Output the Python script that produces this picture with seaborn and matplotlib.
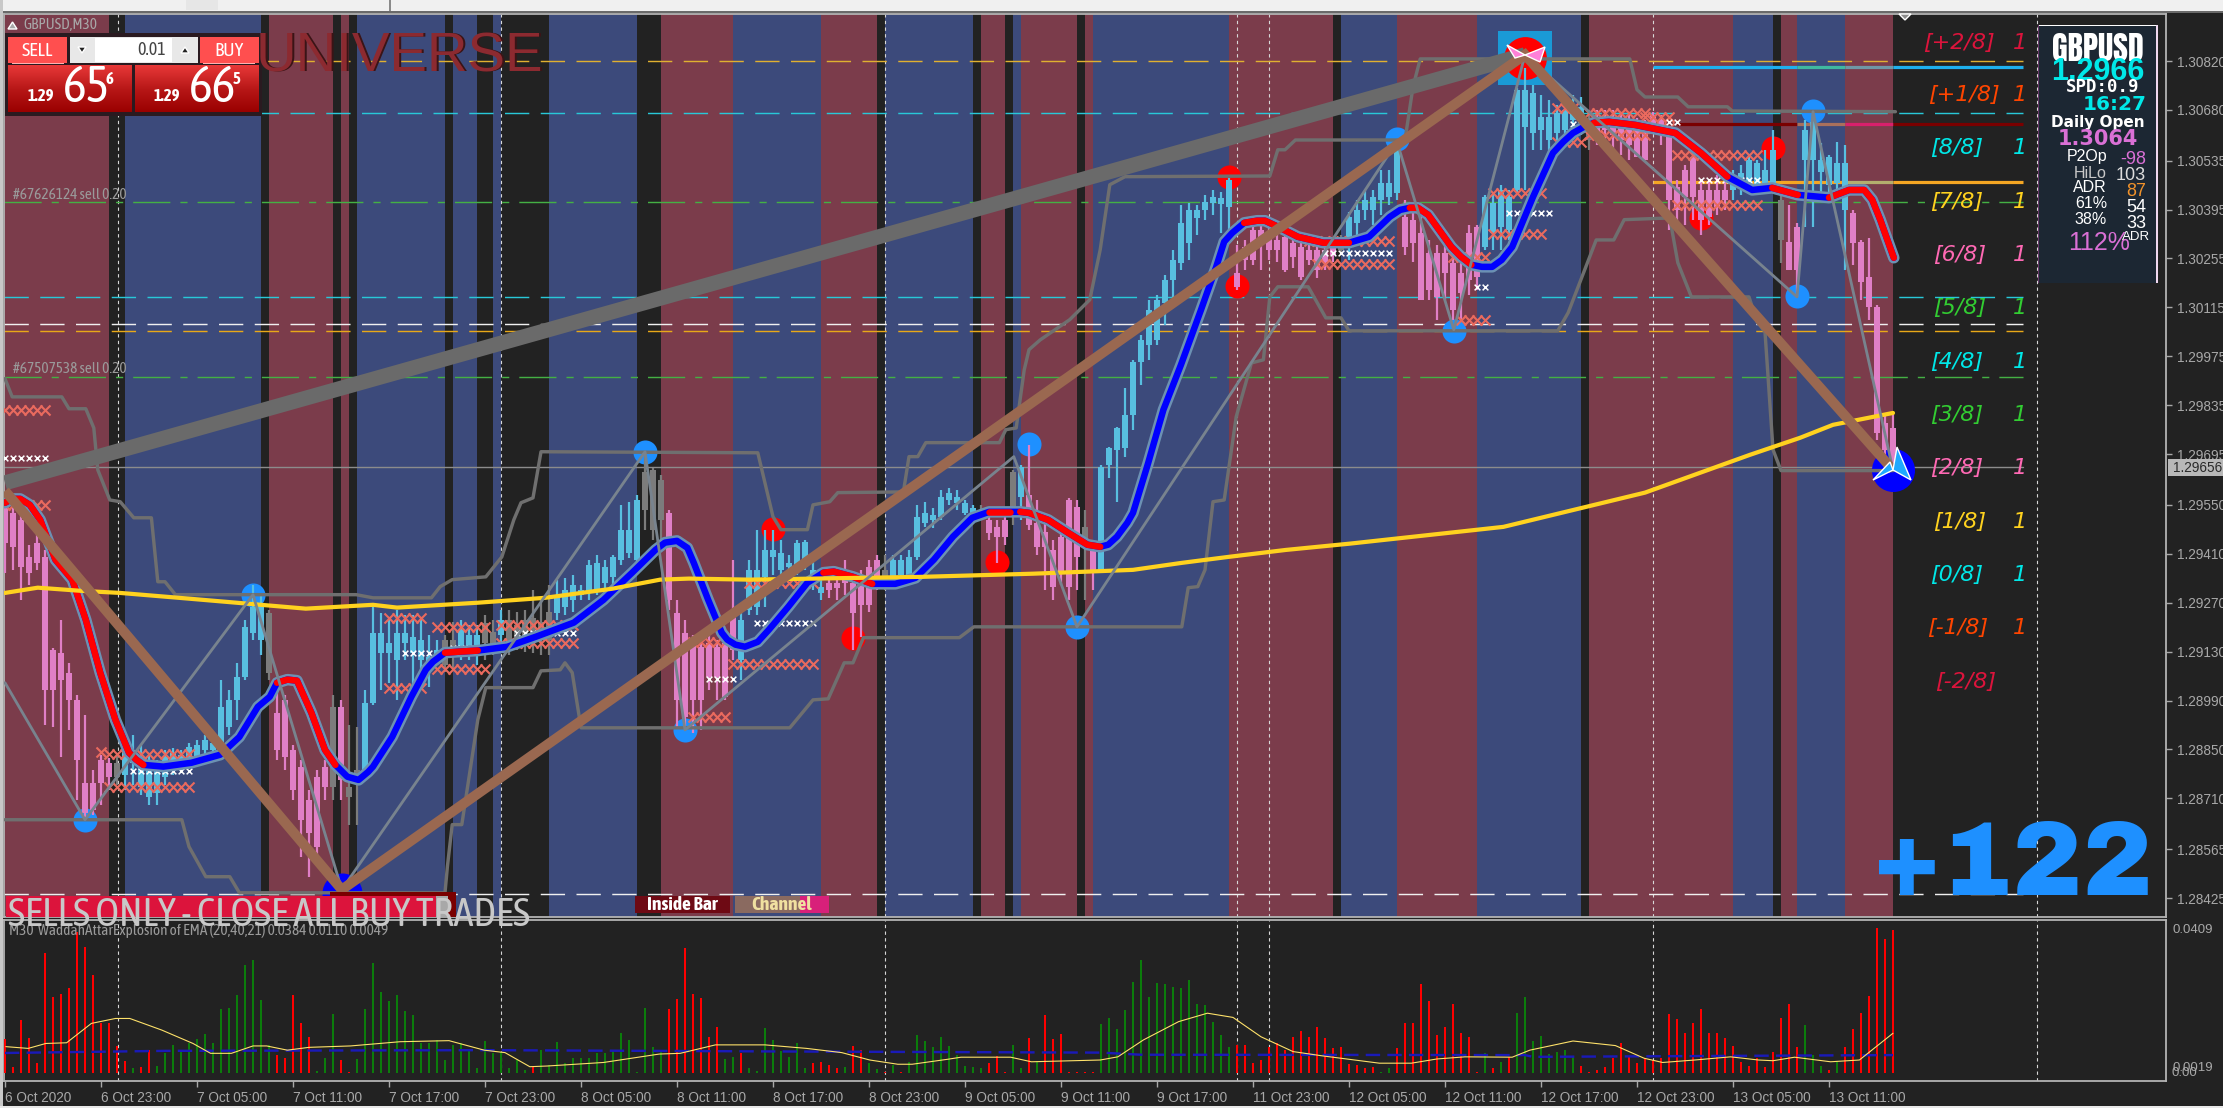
import numpy as np
import matplotlib
matplotlib.use("Agg")
import matplotlib.pyplot as plt
import matplotlib.font_manager as fm
from matplotlib.patches import Rectangle, Polygon
import seaborn as sns

# ---------- data (prices in points: price = 1 + value / 100000) ----------
body_top = [
29544,29527,29507,29401,29441,29401,29135,29127,29070,28992,
28755,28755,28821,28812,28812,28864,28849,28829,28792,28792,
28829,28841,28835,28858,28864,28878,28869,28972,28992,29058,
29201,29258,29270,29241,28955,28992,28849,28801,28706,28772,
28801,28972,28972,28743,28792,28984,29184,29184,29155,29184,
29184,29173,29164,29115,29135,29164,29164,29193,29178,29178,
29213,29187,29221,29221,29207,29221,29227,29215,29244,29287,
29307,29321,29307,29378,29384,29373,29401,29479,29479,29564,
29645,29650,29622,29527,29241,29184,29164,29144,29155,29144,
29155,29250,29221,29364,29364,29421,29421,29413,29384,29441,
29444,29364,29316,29327,29327,29364,29327,29344,29373,29393,
29364,29393,29393,29401,29516,29527,29522,29573,29585,29573,
29556,29542,29536,29507,29487,29507,29645,29659,29579,29499,
29473,29421,29459,29564,29544,29487,29421,29659,29713,29770,
29808,29959,30022,30108,30137,30194,30251,30357,30394,30394,
30417,30431,30429,30480,30214,30288,30337,30337,30317,30308,
30317,30300,30288,30280,30280,30280,30294,30308,30374,30394,
30423,30431,30471,30471,30572,30374,30366,30328,30271,30271,
30271,30243,30214,30328,30346,30431,30414,30451,30431,30738,
30738,30729,30660,30660,30672,30680,30689,30689,30637,30652,
30652,30657,30637,30637,30637,30623,30666,30652,30623,30460,
30509,30546,30451,30451,30451,30451,30494,30500,30537,30529,
30509,30566,30423,30303,30346,30623,30646,30537,30546,30529,
30529,30386,30303,30203,30117,29785,29770]
body_bot = [
29441,29430,29373,29356,29384,29021,29021,29050,28992,28821,
28669,28678,28755,28772,28772,28778,28812,28743,28715,28726,
28772,28801,28806,28821,28821,28849,28849,28869,28915,28992,
29058,29184,29164,29070,28849,28829,28735,28649,28612,28572,
28743,28743,28764,28715,28764,28783,28984,29127,29127,29107,
29155,29127,29107,29098,29115,29092,29121,29135,29144,29135,
29155,29150,29178,29164,29164,29178,29164,29164,29164,29241,
29258,29278,29293,29298,29307,29327,29344,29393,29413,29393,
29536,29479,29507,29278,28992,28944,28992,28992,29058,29058,
29001,29135,29107,29250,29258,29344,29401,29364,29373,29373,
29384,29327,29298,29307,29313,29327,29241,29264,29264,29336,
29336,29344,29350,29344,29401,29499,29507,29516,29564,29556,
29527,29527,29527,29470,29459,29459,29544,29573,29493,29430,
29430,29316,29356,29316,29401,29430,29364,29364,29665,29708,
29713,29808,29959,30008,30022,30128,30194,30243,30300,30371,
30394,30414,30411,30403,30174,30251,30251,30300,30280,30280,
30223,30260,30203,30251,30223,30245,30265,30280,30317,30357,
30394,30394,30423,30431,30443,30288,30300,30137,30165,30145,
30214,30108,30157,30194,30203,30288,30328,30346,30337,30451,
30632,30614,30623,30594,30614,30623,30652,30643,30594,30609,
30623,30609,30594,30580,30546,30537,30637,30609,30423,30394,
30431,30431,30366,30374,30403,30423,30451,30460,30460,30460,
30471,30471,30308,30223,30223,30537,30537,30503,30466,30471,
30394,30300,30188,30117,29756,29708,29679]
wick_hi = [
29556,29564,29530,29436,29507,29421,29141,29221,29098,29007,
28949,28792,28835,28826,28835,28892,28892,28864,28835,28821,
28849,28855,28849,28869,28878,28892,28884,29050,29021,29098,
29221,29321,29293,29250,29021,29007,28864,28821,28735,28792,
28821,29007,28992,28921,28915,29021,29264,29241,29221,29250,
29236,29236,29221,29178,29164,29178,29215,29221,29207,29207,
29236,29221,29250,29250,29244,29250,29307,29278,29321,29336,
29341,29350,29321,29393,29407,29393,29407,29550,29559,29579,
29702,29656,29636,29536,29278,29221,29178,29164,29178,29164,
29193,29393,29250,29393,29479,29479,29479,29450,29407,29450,
29450,29393,29336,29350,29350,29393,29336,29364,29393,29407,
29407,29407,29407,29421,29550,29559,29542,29593,29599,29593,
29564,29550,29550,29522,29507,29522,29650,29665,29722,29564,
29507,29450,29479,29570,29564,29536,29436,29665,29716,29773,
29885,29965,30037,30137,30151,30208,30280,30409,30414,30409,
30437,30451,30446,30486,30294,30308,30351,30351,30343,30323,
30323,30323,30308,30294,30294,30294,30308,30323,30388,30423,
30451,30451,30509,30509,30574,30423,30394,30380,30308,30294,
30294,30265,30251,30351,30351,30437,30437,30466,30451,30743,
30800,30752,30723,30709,30695,30709,30723,30717,30680,30680,
30680,30680,30666,30666,30657,30652,30675,30666,30629,30480,
30523,30566,30480,30480,30494,30494,30509,30523,30552,30537,
30566,30623,30437,30409,30357,30652,30652,30586,30552,30589,
30580,30394,30308,30314,30122,29808,29813]
wick_lo = [
29356,29364,29278,29321,29364,28921,28915,28829,28906,28706,
28649,28663,28692,28735,28749,28735,28749,28721,28692,28692,
28749,28778,28786,28798,28806,28821,28835,28864,28892,28935,
29050,29164,29121,29050,28821,28792,28706,28543,28486,28535,
28706,28706,28706,28635,28635,28764,28978,29021,29041,28992,
29107,29021,29050,29030,29092,29072,29084,29107,29107,29092,
29107,29121,29135,29121,29135,29130,29127,29121,29121,29221,
29236,29244,29278,29278,29293,29301,29307,29378,29399,29384,
29479,29450,29421,29250,28915,28906,28898,28906,29021,28992,
28992,29107,29050,29236,29236,29258,29350,29321,29336,29350,
29364,29307,29278,29284,29278,29293,29135,29173,29244,29307,
29307,29336,29336,29330,29393,29487,29484,29507,29550,29536,
29522,29519,29507,29450,29384,29436,29493,29507,29479,29407,
29307,29278,29321,29278,29307,29278,29307,29359,29627,29559,
29688,29765,29893,29965,30008,30065,30137,30223,30251,30323,
30366,30380,30328,30328,30165,30223,30237,30223,30251,30245,
30217,30228,30194,30237,30200,30223,30245,30265,30251,30323,
30366,30351,30380,30409,30423,30265,30245,30137,30137,30080,
30137,30080,30074,30151,30165,30280,30280,30280,30308,30437,
30451,30566,30566,30566,30566,30594,30609,30609,30566,30580,
30580,30566,30552,30537,30546,30537,30623,30580,30337,30337,
30351,30366,30323,30351,30380,30394,30423,30437,30451,30437,
30451,30451,30243,30223,30145,30346,30346,30423,30437,30437,
30223,30237,30137,30080,29736,29650,29659]
candle_trend = ("d"*14+"g"+"u"*18+"g"+"d"*7+"g"+"d"+"gg"+"u"*10+"gg"+"uuu"+"gg"+"u"+"g"*6+"u"*11+"ggg"
                +"d"*9+"u"*11+"d"*7+"g"+"u"*11+"g"+"ddd"+"g"+"u"+"d"*7+"g"+"d"+"u"*17+"d"*13+"g"
                +"u"*7+"d"*10+"u"*13+"g"+"d"*17+"u"*6+"g"+"dd"+"u"*6+"d"*6)

band_edges = [0,13,15,32,33,41,42,43,44,55,56,59,61,62,68,79,82,91,102,109,110,121,122,125,126,127,
              134,135,136,153,166,167,174,184,197,198,216,221,222,224,230,236]
band_kinds = "mdbdmdmdbdbdbdbdmbmdbdmdbmdmbmdbmbdmbdmbm"

hma_x = [0,0.9,1.9,3.1,4.4,6.3,8.4,10.1,11.9,13.8,15.5,16.4,17.3,19.8,23.3,26.9,29.3,31.6,33.1,34,35.3,36.5,37.4,38.3,40,41.3,42.8,44.2,45.4,46,48.4,50.8,52.6,53.5,55,56.8,59.1,62.8,66.4,71.1,74.8,78.4,81.3,82.5,84,85.3,86.1,87.9,89.6,90.3,91.3,92.5,94.1,95.5,97.9,100.3,102.3,103.6,106,108.4,111.3,113.8,116.1,118.5,120.9,123,125.6,126.9,128,130.4,132.9,135.3,136.9,137.9,139,140.3,141,142.9,144.8,147,149.5,151.4,152.4,153.4,154.9,156.5,157.5,159.1,161.6,164.8,168,170.5,173.1,174.4,175.6,176.6,177.9,180.8,182,183.3,184.6,185.9,187.1,188.4,191,193.5,194.8,196,197.4,198.6,200.5,203.8,208.8,212,215.3,218.4,220.9,224.1,228,230.5,232.4,233.4,234.4,235.3,236.1]
hma_y = [29556,29567,29567,29550,29507,29393,29336,29221,29070,28935,28841,28821,28806,28801,28812,28835,28886,28972,29001,29041,29050,29047,29001,28955,28849,28806,28772,28763,28786,28801,28886,29001,29078,29101,29127,29130,29133,29144,29173,29213,29278,29356,29421,29442,29447,29427,29384,29278,29184,29164,29150,29144,29158,29193,29258,29327,29356,29359,29344,29324,29324,29341,29393,29459,29513,29530,29530,29530,29527,29507,29470,29436,29430,29436,29459,29499,29527,29670,29822,29951,30108,30231,30303,30328,30357,30363,30363,30346,30317,30300,30300,30317,30374,30394,30400,30400,30380,30288,30260,30237,30231,30231,30251,30288,30431,30557,30589,30614,30632,30643,30646,30637,30614,30557,30489,30451,30457,30437,30429,30451,30451,30423,30366,30308,30257]
hma_red_from = [0,34,55,102.3,123,126.9,154,175.6,198.6,220.9,228]
hma_red_to = [17.3,41.9,59.1,108.4,125.6,136.9,168,183.3,215.3,224.1,236.1]

ma_x = [0,4.1,9.5,14.4,23.3,37.6,46,49,59.1,67.5,75.9,81.9,85.5,93.1,114.6,128.5,141,147.1,152.9,160.1,168.1,187.3,205,218.1,224.4,228.5,236]
ma_y = [29298,29313,29304,29298,29281,29253,29264,29256,29270,29284,29310,29336,29339,29336,29344,29353,29364,29384,29401,29421,29439,29487,29585,29693,29742,29779,29813]

upper_x = [0,0.9,7.1,8,10.1,11.1,11.6,13.1,14.4,16.1,18.3,19.1,20,21.3,43.9,46,53.3,54.4,55.9,60.1,62.1,63.6,64.5,66,67,94.1,96,97,100.3,101,103.1,104.1,112.3,113,114.1,115.1,124.3,125.1,126.4,127.4,128,129.4,133.1,135.6,136.9,138.1,140,158.1,159.1,160,161.3,175,176,176.9,203.1,204,205,209.1,210.4,215.3,215.9,236.3]
upper_y = [29911,29859,29859,29825,29825,29770,29650,29564,29559,29513,29513,29330,29330,29293,29293,29284,29284,29316,29336,29344,29401,29507,29556,29570,29702,29699,29516,29479,29479,29550,29559,29585,29587,29688,29688,29728,29728,29765,29770,29936,29994,30022,30080,30137,30280,30466,30489,30491,30566,30566,30594,30594,30746,30826,30826,30738,30717,30717,30689,30689,30677,30675]
lower_x = [0,22.1,23,25.1,28.1,29.3,55,55.3,55.9,57.1,59.1,60.1,66,67,69.4,70,70.9,72,98.1,101,102.9,104.9,106,107.3,119.3,121.1,147.1,147.9,149.1,150,151,152.4,153.9,155.1,155.8,157.3,158.1,159.1,162.9,165.1,167,168,194.1,195.4,198.9,201.1,202.4,208.1,209.1,210.8,218,219,220,221,222,236]
lower_y = [28649,28649,28572,28486,28486,28440,28440,28515,28635,28635,28935,29027,29027,29075,29078,29098,29070,28912,28912,28992,28995,29098,29098,29170,29170,29201,29201,29313,29316,29364,29559,29564,29802,29899,29956,29965,30145,30174,30174,30085,30085,30048,30048,30100,30308,30308,30366,30371,30243,30145,30145,30074,30045,29708,29648,29648]

zig_x = [0,10,31,42.1,80,85,126.1,134,174,181.1,190,224,226,236]
zig_y = [29041,28649,29293,28449,29702,28906,29688,29201,30589,30051,30838,30145,30675,29650]
brown_x = [0,42.1,190,236]
brown_y = [29590,28449,30838,29650]
grey_x = [0,190]
grey_y = [29613,30838]

swing_blue_x = [10,31,80,85,128,134,174,181.1,224,226]
swing_blue_y = [28649,29293,29702,28906,29725,29201,30597,30048,30148,30678]
swing_red_x = [96,106,124,154,153,212,221]
swing_red_y = [29481,29170,29386,30176,30489,30371,30572]

salmon_runs = [(0,5,29822),(0,5,29550),(12,12,28844),(13,23,28838),(13,23,28743),(48,52,29227),(54,60,29201),(48,52,29027),
 (54,60,29081),(62,71,29207),(62,71,29155),(86,90,29158),(91,93,29095),(86,90,28944),(93,101,29095),(93,101,29327),
 (163,173,30306),(164,173,30240),(181,185,30260),(182,185,30080),(186,192,30443),(186,192,30326),(194,196,30686),
 (194,197,30589),(198,203,30672),(198,205,30609),(204,205,30672),(205,208,30660),(205,208,30629),(209,219,30552),(209,219,30409)]
white_runs = [(0,5,29685),(16,23,28789),(50,53,29127),(56,61,29141),(64,71,29184),(88,91,29052),(94,101,29213),
 (165,173,30271),(184,185,30174),(188,193,30386),(196,196,30640),(200,203,30643),(208,209,30646),(212,219,30480)]

y_tick_labels = ["1.30820","1.30680","1.30535","1.30395","1.30255","1.30115","1.29975","1.29835","1.29695","1.29550",
                 "1.29410","1.29270","1.29130","1.28990","1.28850","1.28710","1.28565","1.28425"]
time_labels = ["6 Oct 2020","6 Oct 23:00","7 Oct 05:00","7 Oct 11:00","7 Oct 17:00","7 Oct 23:00","8 Oct 05:00","8 Oct 11:00",
               "8 Oct 17:00","8 Oct 23:00","9 Oct 05:00","9 Oct 11:00","9 Oct 17:00","11 Oct 23:00","12 Oct 05:00",
               "12 Oct 11:00","12 Oct 17:00","12 Oct 23:00","13 Oct 05:00","13 Oct 11:00"]
session_lines = [14.1,62,110,154,158,206,254]

wae_values = [95,17,150,98,27,341,216,223,240,401,358,277,142,142,76,33,12,17,64,19,55,79,64,83,97,110,83,181,183,221,306,320,206,79,
 50,41,221,140,102,4,41,167,36,2,38,181,311,228,205,221,175,164,83,83,93,36,79,83,64,13,91,55,60,12,36,8,17,64,22,87,27,43,41,43,55,57,64,112,93,1,
 183,72,64,181,209,353,223,212,102,131,38,45,55,12,6,126,93,62,45,83,12,28,31,22,12,17,76,64,27,10,1,22,3,29,107,90,74,102,77,50,19,15,12,27,48,1,79,12,98,31,164,96,110,2,2,1,2,
 138,154,124,178,259,320,216,256,251,244,241,263,195,192,143,107,74,79,79,28,36,74,83,64,102,119,102,131,98,71,74,24,22,12,17,3,12,71,142,142,252,204,107,131,195,112,102,2,55,12,31,45,169,216,90,105,53,60,64,45,19,3,9,17,41,83,45,27,41,36,41,167,152,112,140,181,112,114,98,76,31,19,41,17,60,154,195,72,135,50,19,8,31,74,124,169,218,410,379,405]
wae_trend = ("r"*16+"g"+"rr"+"g"*15+"r"*5+"ggg"+"rr"+"g"*22+"r"+"g"*16+"r"*7+"gg"+"r"+"g"*8+"r"*4+"g"+"rr"+"gg"+"r"+"g"+"r"
             +"g"*10+"rrr"+"gg"+"r"+"g"+"r"*7+"g"*17+"r"*18+"gg"+"r"*11+"g"+"r"+"g"+"r"+"g"*8+"r"*28+"ggg"+"r"+"g"+"r"*7)
signal_x = [0.1,2.9,5.1,7.7,10.8,13.8,15.6,19.6,23.5,25.7,28.3,31,32.7,35.3,38,43.2,49.4,55.5,59.9,62.5,65.6,67.8,74.8,78.3,81.8,84.4,88.8,95,100.2,104.6,108.1,111.6,113.4,117.8,119.5,125.7,128.3,136.9,139.1,142.3,146.7,150.3,153.5,157,161,164.6,171.8,175.8,179,182.5,188.4,190.6,196,201.3,204.9,207.2,211.2,215.7,219.2,221,223.7,228.2,231.8,236]
signal_y = [74,69,83,85,140,154,154,121,83,55,55,76,76,64,72,76,88,91,64,57,17,19,29,41,53,55,79,79,69,57,36,24,24,38,44,44,31,36,45,93,145,169,157,102,60,48,27,27,39,45,44,64,90,77,41,29,36,45,36,34,44,31,36,112]
dead_x = [0,20,60,100,137,142,190,191,236]
dead_y = [56,62,64,60,57,51,50,45,50]

murrey_labels = ["[+2/8]","[+1/8]","[8/8]","[7/8]","[6/8]","[5/8]","[4/8]","[3/8]","[2/8]","[1/8]","[0/8]","[-1/8]","[-2/8]"]
murrey_colors = ["#dc143c","#ff4500","#00e8e8","#ffd21f","#ff69b4","#32cd32","#00e8e8","#32cd32","#ff69b4","#ffd21f","#00e8e8","#ff4500","#dc143c"]

# ---------- styling ----------
BG = "#222222"
MAROON, NAVY = "#7b3c4b", "#3c4a7b"
sns.set_theme(style="dark", rc={"figure.facecolor": BG, "axes.facecolor": BG, "savefig.facecolor": BG})
names = {f.name for f in fm.fontManager.ttflist}
NARROW, NS = "Liberation Sans", 0.8
for cand in ("Liberation Sans Narrow", "Asap Condensed", "Barlow Condensed"):
    if cand in names:
        NARROW, NS = cand, 1.0
        break
HEAVY = "Archivo Black" if "Archivo Black" in names else None
TALL = "Anton" if "Anton" in names else None
plt.rcParams["font.family"] = ["Liberation Sans", "DejaVu Sans"]
W, H = 2223, 1108
fig = plt.figure(figsize=(W / 100, H / 100), dpi=100)

def axes_px(l, t, r, b, **kw):
    return fig.add_axes([l / W, 1 - b / H, (r - l) / W, (b - t) / H], **kw)

ax = axes_px(4, 14, 2166, 917)
ax2 = axes_px(4, 920, 2166, 1081)
XL = (-0.125, 270.125)
PX = 0.72

def P(v):
    return 1 + np.asarray(v, dtype=float) / 1e5

def line(a, x, y, color, lw, z, **kw):
    sns.lineplot(x=np.asarray(x, float), y=np.asarray(y, float), color=color, linewidth=lw * PX, sort=False,
                 estimator=None, errorbar=None, legend=False, ax=a, zorder=z, **kw)

# bands
colors_band = {"m": MAROON, "b": NAVY, "d": BG}
for s, e, k in zip(band_edges[:-1], band_edges[1:], band_kinds):
    ax.axvspan(s if s else XL[0], e, color=colors_band[k], lw=0, zorder=1)

# session separators
for a in (ax, ax2):
    for t in session_lines:
        a.axvline(t, color="#d8d8d8", lw=0.8, ls=(0, (3, 3)), zorder=2)

# horizontal levels
LEND = 252.25
levels = [(30821, "#e0b030", (0, (17, 8))), (30672, "#28c8d8", (0, (17, 8))), (30416, "#44b044", (0, (26, 7, 5, 7))),
          (30144, "#28c8d8", (0, (17, 8))), (30067, "#f0f0f0", (0, (17, 8))), (30047, "#e8a818", (0, (17, 8))),
          (29917, "#44b044", (0, (26, 7, 5, 7))), (28436, "#f0f0f0", (0, (17, 8)))]
for v, c, ls in levels:
    ax.plot([XL[0], LEND], [P(v), P(v)], color=c, lw=1.1 * PX * 1.3, ls=ls, zorder=2.2)
ax.plot([XL[0], LEND], [P(29657), P(29657)], color="#8c8c8c", lw=1.4 * PX, zorder=2.2)
for v, segs in [(30802, [(206, 224, "#1eb0ee"), (224, 230, "#3fb8a0"), (230, 236, "#6f97a6"), (236, LEND, "#1eb0ee")]),
                (30639, [(209, 224, "#7a0000"), (224, 230, "#a8705c"), (230, 236, "#d8206c"), (236, LEND, "#7a0000")]),
                (30475, [(206, 230, "#f5a623"), (230, 236, "#b4ae6e"), (236, LEND, "#f5a623")])]:
    for s, e, c in segs:
        ax.plot([s, e], [P(v), P(v)], color=c, lw=3.2 * PX, solid_capstyle="butt", zorder=2.3)

# swing circles and square under the candles
sns.scatterplot(x=[190], y=P([30829]), marker="s", s=1560, color="#1a9ad6", linewidth=0, legend=False, ax=ax, zorder=2.6)
sns.scatterplot(x=swing_blue_x, y=P(swing_blue_y), s=300, color="#1e90ff", linewidth=0, legend=False, ax=ax, zorder=2.7)
sns.scatterplot(x=swing_red_x, y=P(swing_red_y), s=300, color="#ff0000", linewidth=0, legend=False, ax=ax, zorder=2.7)
sns.scatterplot(x=[190], y=P([30829]), s=950, color="#ff0000", linewidth=0, legend=False, ax=ax, zorder=2.8)
sns.scatterplot(x=[236], y=P([29650]), s=960, color="#0000ff", linewidth=0, legend=False, ax=ax, zorder=2.8)
sns.scatterplot(x=[42.1], y=P([28440]), s=830, color="#0000ff", linewidth=0, legend=False, ax=ax, zorder=2.8)

# candles
cc = {"u": "#58bfe0", "d": "#e07fc6", "g": "#7c7c7c"}
idx = np.arange(len(body_top))
trend = np.array(list(candle_trend))
for key, col in cc.items():
    m = trend == key
    ax.vlines(idx[m], P(np.array(wick_lo)[m]), P(np.array(wick_hi)[m]), color=col, lw=2.2 * PX, zorder=3)
    ax.bar(idx[m], P(np.array(body_top)[m]) - P(np.array(body_bot)[m]), bottom=P(np.array(body_bot)[m]),
           width=0.72, color=col, lw=0, zorder=3)

# x rows
def runs(rs):
    xs, ys = [], []
    for s, e, v in rs:
        for i in range(s, e + 1):
            xs.append(i); ys.append(v)
    return np.array(xs), P(ys)
xs, ys = runs(salmon_runs)
sns.scatterplot(x=xs, y=ys, marker="x", s=52, color="#ea6a5e", linewidth=1.5, legend=False, ax=ax, zorder=4)
xs, ys = runs(white_runs)
sns.scatterplot(x=xs, y=ys, marker="x", s=17, color="#ffffff", linewidth=1.1, legend=False, ax=ax, zorder=4.1)

# channels
line(ax, upper_x, P(upper_y), "#6f6f6f", 3.4, 4.3)
line(ax, lower_x, P(lower_y), "#6f6f6f", 3.4, 4.3)

# smoothed trend line
hx, hy = np.array(hma_x), P(hma_y)
line(ax, hx, hy, "#6c91b3", 11.5, 5, solid_capstyle="round", solid_joinstyle="round")
line(ax, hx, hy, "#0000ff", 6.5, 5.1, solid_joinstyle="round")
for s, e in zip(hma_red_from, hma_red_to):
    m = (hx >= s) & (hx <= e)
    line(ax, hx[m], hy[m], "#ff0000", 6.5, 5.2, solid_capstyle="round", solid_joinstyle="round")

# moving average
line(ax, ma_x, P(ma_y), "#ffd21f", 4.2, 5.5)
# thick lines
line(ax, grey_x, P(grey_y), "#6a6a6a", 15, 5.6, solid_capstyle="butt")
line(ax, zig_x, P(zig_y), "#78838e", 2.8, 5.8)
line(ax, brown_x, P(brown_y), "#9a6850", 10, 5.9, solid_capstyle="butt", solid_joinstyle="miter")

ax.set_xlim(*XL)
ax.set_ylim(P(28370.7), P(30954.5))
ax.set_xlabel(""); ax.set_ylabel("")
ax.set_xticks([])
ax.yaxis.tick_right()
ax.set_yticks([float(t) for t in y_tick_labels])
ax.set_yticklabels(y_tick_labels)
ax.tick_params(axis="y", colors="#a8a8a8", labelsize=9.8, length=4, width=1, pad=4, right=True)

# lower panel
wx = np.arange(len(wae_values))
sns.barplot(x=wx, y=np.array(wae_values) / 1e4, hue=list(wae_trend), palette={"r": "#ff0000", "g": "#0b7d0b"},
            native_scale=True, width=0.34, dodge=False, legend=False, saturation=1, linewidth=0, ax=ax2, zorder=3)
line(ax2, dead_x, np.array(dead_y) / 1e4, "#1a1ab8", 2.4, 3.5, linestyle=(0, (6, 3)))
line(ax2, signal_x, np.array(signal_y) / 1e4, "#ffe26a", 1.1, 4)
ax2.set_xlim(*XL)
ax2.set_ylim(-0.00236, 0.04337)
ax2.set_xlabel(""); ax2.set_ylabel("")
ax2.yaxis.tick_right()
ax2.set_yticks([0.0409, 0.0019])
ax2.set_yticklabels(["0.0409", "0.0019"])
ax2.tick_params(axis="y", colors="#a8a8a8", labelsize=9.5, length=0, pad=5, right=True)
ax2.set_xticks(np.arange(len(time_labels)) * 12)
ax2.set_xticklabels(time_labels, ha="left")
ax2.tick_params(axis="x", colors="#a8a8a8", labelsize=9.8, length=4, width=1, pad=3, bottom=True)
for a in (ax, ax2):
    for sp in a.spines.values():
        sp.set_color("#b4b4b4"); sp.set_linewidth(1.3); sp.set_visible(True)
    a.grid(False)

# ---------- overlay in figure pixels ----------
ov = fig.add_axes([0, 0, 1, 1], zorder=20)
ov.set_xlim(0, W); ov.set_ylim(H, 0); ov.axis("off"); ov.patch.set_alpha(0)

def rect(x0, y0, x1, y1, c, z=1, **kw):
    ov.add_patch(Rectangle((x0, y0), x1 - x0, y1 - y0, facecolor=c, edgecolor="none", zorder=z, **kw))

def T(x, y, s, c, size, ha="left", va="center", fam=None, w="normal", st="normal", z=5, **kw):
    if fam == NARROW:
        size = size * NS
    return ov.text(x, y, s, color=c, fontsize=size, ha=ha, va=va, family=fam or "Liberation Sans", weight=w, style=st, zorder=z, **kw)

# window chrome
rect(0, 0, W, 10.5, "#f0f0f0"); rect(0, 10.5, W, 13, "#6a6a6a")
rect(0, 0, 2.5, H, "#c8c8c8")
rect(186, 0, 218, 10, "#e6e6e6"); rect(389, 0, 390.5, 10.5, "#8a8a8a")
rect(0, 1105.5, W, H, "#e8e8e8")

# UNIVERSE title
T(545, 58, "UNIVERSE", "#3a1416", 40.5, ha="right")
T(543, 57, "UNIVERSE", "#8c2a30", 40.5, ha="right")

# trade panel
rect(5, 33, 262, 116, "#2a1a20", z=2)
rect(8, 37, 67, 63, "#ff4f4f", z=3); rect(12, 62.5, 64, 63.5, "#ffb0b0", z=3)
rect(200, 37, 259, 63, "#ff4f4f", z=3); rect(203, 62.5, 255, 63.5, "#ffb0b0", z=3)
rect(70, 37, 198, 63, "#e8e8e8", z=3); rect(95, 38, 172, 62, "#ffffff", z=4)
grad = np.linspace(0, 1, 64)[:, None]
cm = matplotlib.colors.LinearSegmentedColormap.from_list("r", ["#e83838", "#b81818", "#9a0000"])
for x0, x1 in [(8, 132), (135, 259)]:
    ov.imshow(grad, extent=(x0, x1, 112, 65), aspect="auto", cmap=cm, zorder=3)
ov.set_xlim(0, W); ov.set_ylim(H, 0)
ov.add_patch(Polygon([(78, 47), (86, 47), (82, 53)], fc="#222222", zorder=5))
ov.add_patch(Polygon([(181, 53), (189, 53), (185, 47)], fc="#222222", zorder=5))
T(37.5, 51, "SELL", "#ffffff", 14, ha="center", fam=NARROW)
T(229, 51, "BUY", "#ffffff", 14, ha="center", fam=NARROW)
T(166, 50, "0.01", "#444444", 13, ha="right", fam=NARROW)
T(28, 96, "1.29", "#ffffff", 12, w="bold", fam=NARROW); T(63, 89, "65", "#ffffff", 36, fam=NARROW); T(106, 79, "6", "#ffffff", 12, w="bold", fam=NARROW)
T(154, 96, "1.29", "#ffffff", 12, w="bold", fam=NARROW); T(189, 89, "66", "#ffffff", 36, fam=NARROW); T(233, 79, "5", "#ffffff", 12, w="bold", fam=NARROW)

# small labels
ov.add_patch(Polygon([(8, 29), (17, 29), (12.5, 22)], fc="#a8a8a8", zorder=5))
T(23, 25, "GBPUSD,M30", "#a8a8a8", 11, fam=NARROW)
T(13, 195, "#67626124 sell 0.20", "#9a9a9a", 11, fam=NARROW)
T(13, 369, "#67507538 sell 0.20", "#9a9a9a", 11, fam=NARROW)
T(9, 931, "M30  WaddahAttarExplosion of EMA (20,40,21) 0.0384 0.0110 0.0049", "#9a9a9a", 11, fam=NARROW)
ov.add_patch(Polygon([(1899, 14), (1911, 14), (1905, 20)], fc="#8c8c8c", zorder=5))

# arrows inside big circles
ov.add_patch(Polygon([(1873, 480), (1893, 470), (1890, 462)], fc="#1ea8ff", zorder=6))
ov.add_patch(Polygon([(1893, 470), (1897, 447), (1911, 480)], fc="#1ea8ff", zorder=6))
ov.add_patch(Polygon([(1507, 45), (1525, 55), (1515, 58)], fc="#ff80d8", zorder=6))
ov.add_patch(Polygon([(1525, 55), (1545, 47), (1540, 62)], fc="#ff80d8", zorder=6))

# bottom banner
rect(330, 892, 456, 917, "#7a0000", z=2)
rect(6, 896, 436, 917, "#dc143c", z=3)
rect(436, 896, 448, 917, "#a8a8a8", z=3)
t = T(8, 926, "SELLS ONLY - CLOSE ALL BUY TRADES", "#c8c8c8", 29, va="baseline", fam=NARROW)
t.set_clip_path(Rectangle((0, 895), W, 22, transform=ov.transData))
rect(635, 896, 730, 913, "#6e0a14", z=3)
T(682, 904.5, "Inside Bar", "#ffffff", 14, ha="center", w="bold", fam=NARROW)
rect(735, 896, 800, 913, "#8a6a60", z=3); rect(800, 896, 829, 913, "#d8207a", z=3)
T(782, 904.5, "Channel", "#f0e0a0", 14, ha="center", w="bold", fam=NARROW)

# Murrey labels
murrey_y = [43, 95, 148, 202, 255, 308, 362, 415, 468, 522, 575, 628, 682]
murrey_x = [1923, 1928, 1930, 1930, 1933, 1933, 1930, 1930, 1930, 1933, 1930, 1927, 1935]
for lab, col, x, y in zip(murrey_labels, murrey_colors, murrey_x, murrey_y):
    T(x, y, lab, col, 16, st="italic", fam="DejaVu Sans")
    if lab != "[-2/8]":
        tt = T(2013, y, "1", col, 16, st="italic", fam="DejaVu Sans")
        tt.set_clip_path(Rectangle((2000, y - 20), 23, 40, transform=ov.transData))

# current price box
rect(2168, 459, W, 476, "#b8b8b8")
T(2173, 467.5, "1.29656", "#2a2a2a", 9.8)
T(2171, 1073, "0.00", "#a8a8a8", 9.5)

# info panel
rect(2038, 25, 2157, 283, "#1c2733")
rect(2038, 25, 2157, 26, "#ffffff", z=2); rect(2156, 25, 2157.5, 283, "#f0d8f0", z=2); rect(2038, 25, 2039, 283, "#6a3a6a", z=2)
if TALL:
    T(2098, 49, "GBPUSD", "#ffffff", 23, ha="center", fam=TALL)
else:
    T(2098, 49, "GBPUSD", "#ffffff", 23, ha="center", w="bold", fam=NARROW)
T(2098, 72, "1.2966", "#00e8e8", 22, ha="center", w="bold")
T(2103, 87, "SPD:0.9", "#ffffff", 12.5, ha="center", w="bold", fam="DejaVu Sans Mono")
T(2147, 105, "16:27", "#00e8e8", 14.5, ha="right", w="bold", fam="DejaVu Sans")
T(2098, 122, "Daily Open", "#ffffff", 11, ha="center", w="bold", fam="DejaVu Sans")
T(2138, 139, "1.3064", "#da70d6", 15, ha="right", w="bold", fam="DejaVu Sans")
for lab, y, c in [("P2Op", 157, "#ffffff"), ("HiLo", 173, "#c8c8c8"), ("ADR", 188, "#ffffff"), ("61%", 204, "#ffffff"), ("38%", 220, "#ffffff")]:
    T(2107, y, lab, c, 11.5, ha="right")
for lab, y, c in [("-98", 159, "#da70d6"), ("103", 175, "#dddddd"), ("87", 192, "#f0922b"), ("54", 207, "#ffffff"), ("33", 223, "#ffffff")]:
    T(2146, y, lab, c, 13, ha="right")
T(2068, 243, "112%", "#da70d6", 18)
T(2122, 237, "ADR", "#ffffff", 9.5)

# big profit figure
if HEAVY:
    T(1872, 895, "+122", "#1e90ff", 76, va="baseline", fam=HEAVY, z=7)
else:
    T(1874, 895, "+122", "#1e90ff", 69, va="baseline", w="bold", fam="DejaVu Sans", z=7)

fig.savefig("out.png", dpi=100)
